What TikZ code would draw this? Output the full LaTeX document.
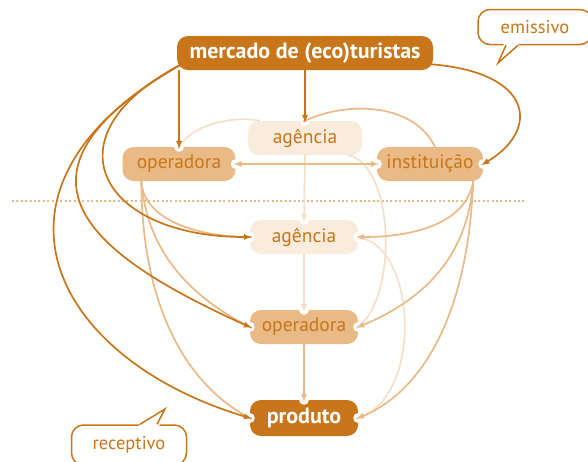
\documentclass[tikz,border=0pt]{standalone}
\usepackage{fontspec}
\setmainfont{PT Sans}
\usepackage{tikz}
\usetikzlibrary{calc}
\definecolor{rust}{RGB}{201,118,26}
\definecolor{sand}{RGB}{233,186,134}
\definecolor{cream}{RGB}{249,236,220}
\definecolor{creamline}{RGB}{244,224,200}

\begin{document}
\begin{tikzpicture}[x=1pt,y=-1pt]
\tikzstyle{stage}=[rectangle,rounded corners=11pt,minimum height=34pt,inner sep=2pt,text=rust,font=\fontsize{19.5}{19.5}\selectfont]
\tikzstyle{strong}=[fill=rust,text=white,font=\bfseries\fontsize{22}{22}\selectfont]
\tikzstyle{bubble}=[rectangle,rounded corners=12pt,draw=rust,line width=1.5pt,fill=white,text=rust,font=\fontsize{18.5}{18.5}\selectfont]
\tikzstyle{darkline}=[rust,line width=1.7pt,>=latex,shorten >=-2pt]
\tikzstyle{sandline}=[sand,line width=1.7pt,>=latex,shorten >=-2pt,shorten <=-2pt]
\tikzstyle{paleline}=[creamline,line width=1.7pt,>=latex,shorten >=-2pt]

\useasboundingbox (0,0) rectangle (588,461);

\node [stage, strong, minimum width=256pt] (M) at (305,53) {mercado de (eco)turistas};
\node [stage, fill=cream, minimum width=114pt] (AE) at (305,138) {agência};
\node [stage, fill=sand, minimum width=113pt] (OE) at (179,164) {operadora};
\node [stage, fill=sand, minimum width=106pt] (I) at (430,164) {instituição};
\node [stage, fill=cream, minimum width=108pt] (AR) at (304,237) {agência};
\node [stage, fill=sand, minimum width=108pt] (OR) at (304,327) {operadora};
\node [stage, strong, minimum width=108pt, minimum height=36pt] (P) at (304,418) {produto};

\node [bubble, minimum width=114pt, minimum height=35pt] (EM) at (535,27) {emissivo};
\node [bubble, minimum width=115pt, minimum height=40pt] (RE) at (129,445) {receptivo};

\coordinate (EMtip) at (498,63);
\coordinate (REtip) at (165,409);
\fill[white] ($(EM.south)+(-31,-2)$) -- (EMtip) -- ($(EM.south)+(-15,-2)$) -- cycle;
\draw[rust,line width=1.5pt] ($(EM.south)+(-29,0)$) -- (EMtip) -- ($(EM.south)+(-17,0)$);
\fill[white] ($(RE.north)+(9,2)$) -- (REtip) -- ($(RE.north)+(30,2)$) -- cycle;
\draw[rust,line width=1.5pt] ($(RE.north)+(11,0)$) -- (REtip) -- ($(RE.north)+(28,0)$);

\draw[sand,line width=2pt,dash pattern=on 2pt off 2.4pt] (12,201) -- (525,201);

\fill[white] (OE.north) circle (5pt) (AE.north) circle (5pt) (I.east) circle (5pt)
  (OE.east) circle (5pt) (I.west) circle (5pt)
  (AR.north) circle (5pt) (AR.west) circle (5pt) (AR.east) circle (5pt)
  (OR.north) circle (5pt) (OR.west) circle (5pt) (OR.east) circle (5pt)
  (P.north) circle (5pt) (P.west) circle (5pt) (P.east) circle (5pt);

\coordinate (Mleft) at ($(M.south west)+(3,-5)$);
\coordinate (Mright) at ($(M.south east)+(-3,-6)$);
\coordinate (OEfoot) at ($(OE.south west)+(19,0)$);
\coordinate (Ifoot) at ($(I.south east)+(-10,0)$);

\draw[->,paleline] (AE.south) -- (AR.north);
\draw[->,paleline] (AR.south) -- (OR.north);
\draw[paleline] ($(AE.north west)+(12,0)$) .. controls +(-30,-6) and +(10,-20) .. (OE.north);
\draw[paleline] ($(AE.south east)+(-14,0)$) .. controls +(47,10) and +(40,-27) .. (OR.east);
\draw[paleline] (AR.east) .. controls +(60,10) and +(65,-18) .. (P.east);

\draw[<->,sandline] (OE.east) -- (I.west);
\draw[->,sandline] (OR.south) -- (P.north);
\draw[sandline] ($(I.north)+(5,0)$) .. controls +(-20,-45) and +(40,-20) .. (AE.north);
\draw[sandline] (OEfoot) .. controls +(0,35) and +(-60,0) .. (AR.west);
\draw[sandline] (OEfoot) .. controls +(5,70) and +(-60,-30) .. (OR.west);
\draw[sandline] (OEfoot) .. controls +(0,130) and +(-60,-30) .. (P.west);
\draw[->,sandline] (Ifoot) .. controls +(-5,40) and +(60,0) .. (AR.east);
\draw[->,sandline] (Ifoot) .. controls +(-5,80) and +(60,-25) .. (OR.east);
\draw[->,sandline] (Ifoot) .. controls +(-5,140) and +(60,-25) .. (P.east);

\draw[->,darkline] (OE.north |- M.south) -- (OE.north);
\draw[->,darkline] (M.south) -- (AE.north);
\draw[->,darkline] (Mright) .. controls +(104,8) and +(57,-34) .. (I.east);
\draw[->,darkline] (Mleft) .. controls +(-135,71) and +(-150,0) .. (AR.west);
\draw[->,darkline] (Mleft) .. controls +(-190,110) and +(-160,-72) .. (OR.west);
\draw[->,darkline] (Mleft) .. controls +(-215,121) and +(-200,-60) .. (P.west);

\end{tikzpicture}
\end{document}
